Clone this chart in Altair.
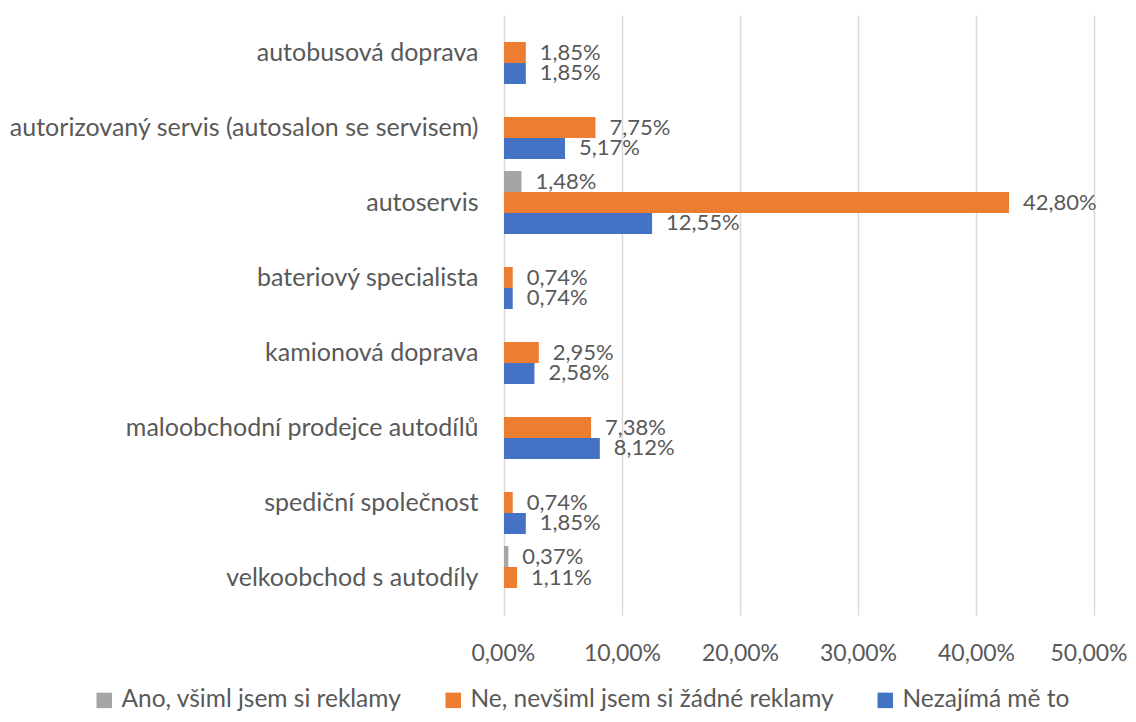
import altair as alt
import pandas as pd

categories = [
    "autobusová doprava",
    "autorizovaný servis (autosalon se servisem)",
    "autoservis",
    "bateriový specialista",
    "kamionová doprava",
    "maloobchodní prodejce autodílů",
    "spediční společnost",
    "velkoobchod s autodíly",
]
series = ["Ano, všiml jsem si reklamy", "Ne, nevšiml jsem si žádné reklamy", "Nezajímá mě to"]
ano = [0, 0, 1.48, 0, 0, 0, 0, 0.37]
ne = [1.85, 7.75, 42.80, 0.74, 2.95, 7.38, 0.74, 1.11]
nezajima = [1.85, 5.17, 12.55, 0.74, 2.58, 8.12, 1.85, 0]
colors = ["#A5A5A5", "#ED7D31", "#4472C4"]
x_ticks = [0, 10, 20, 30, 40, 50]

rows = []
for s, vals in zip(series, [ano, ne, nezajima]):
    for c, v in zip(categories, vals):
        rows.append({"kategorie": c, "serie": s, "hodnota": v})
df = pd.DataFrame(rows)

FONT = "Lato"
TXT = "#595959"

base = alt.Chart(df).transform_filter("datum.hodnota > 0").encode(
    y=alt.Y("kategorie:N", sort=categories,
            scale=alt.Scale(domain=categories, paddingInner=0, paddingOuter=0),
            axis=alt.Axis(title=None, ticks=False, domain=False, labelLimit=600,
                          labelFontSize=25, labelColor=TXT, labelFont=FONT,
                          labelPadding=26, grid=False)),
    yOffset=alt.YOffset("serie:N", sort=series,
                        scale=alt.Scale(domain=series, paddingInner=0, paddingOuter=0.286)),
    x=alt.X("hodnota:Q", scale=alt.Scale(domain=[0, 50], nice=False),
            axis=alt.Axis(title=None, values=x_ticks, ticks=False, domain=False,
                          grid=True, gridColor="#D9D9D9", gridWidth=1.5,
                          labelFlush=True, labelFlushOffset=33, labelOverlap=False,
                          labelExpr="replace(format(datum.value, '.2f'), '.', ',') + '%'",
                          labelFontSize=23, labelColor=TXT, labelFont=FONT,
                          labelPadding=27)),
)

bars = base.mark_bar().encode(
    color=alt.Color("serie:N", sort=series,
                    scale=alt.Scale(domain=series, range=colors),
                    legend=alt.Legend(title=None, orient="none", direction="horizontal",
                                      legendX=-412, legendY=673, columns=3,
                                      columnPadding=39, symbolType="square",
                                      symbolSize=240, symbolStrokeWidth=0,
                                      labelFontSize=24.5, labelColor=TXT, labelFont=FONT,
                                      labelLimit=600, labelOffset=5)),
)

labels = base.transform_calculate(
    lab="replace(format(datum.hodnota, '.2f'), '.', ',') + '%'"
).mark_text(align="left", baseline="middle", dx=14, fontSize=22, color=TXT, font=FONT).encode(
    text="lab:N"
)

chart = (bars + labels).properties(
    width=590, height=600,
    autosize=alt.AutoSizeParams(type="none"),
    padding={"left": 496, "top": 7, "right": 34, "bottom": 99},
).configure_view(stroke=None)

chart.save("out.html", embed_options={"renderer": "svg", "actions": False})
